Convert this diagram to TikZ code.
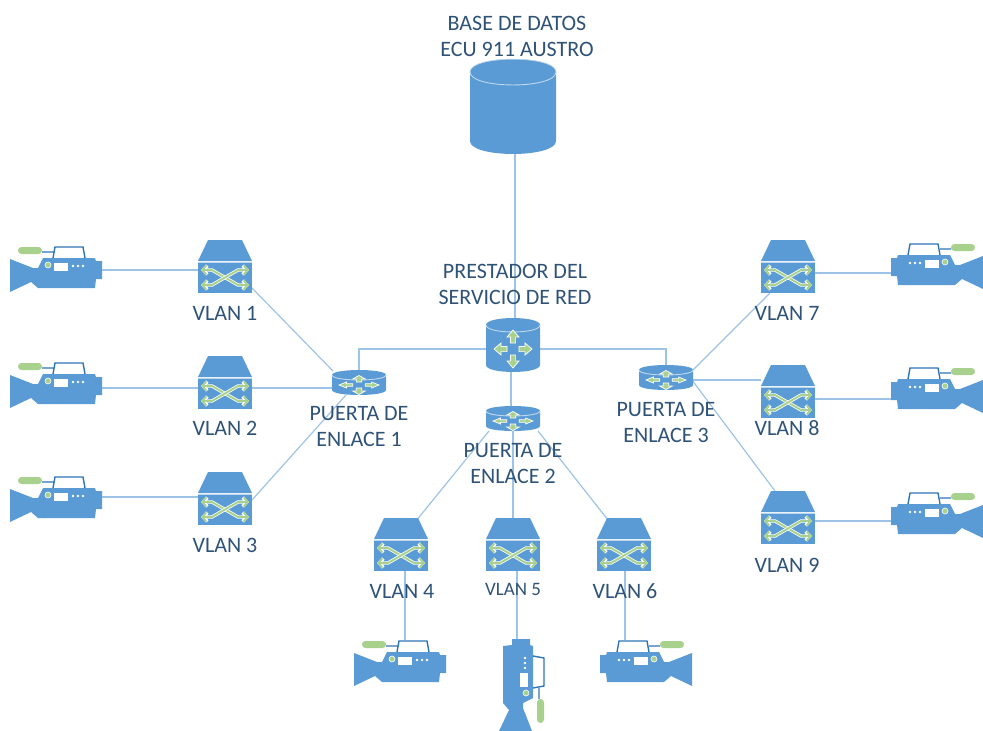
\documentclass[tikz,border=0pt]{standalone}
\usepackage{fontspec}
\setmainfont{Carlito}
\usetikzlibrary{arrows.meta}
\definecolor{devblue}{HTML}{5B9BD5}
\definecolor{wire}{HTML}{9DC3E6}
\definecolor{devgreen}{HTML}{A9D18E}
\definecolor{rim}{HTML}{BDD7EE}
\definecolor{handle}{HTML}{2E75B6}
\definecolor{labelblue}{HTML}{2F5277}
\newcommand{\cylbody}[3]{%
  \fill[devblue] (0,#3) .. controls (0,{-0.33*#3}) and (#1,{-0.33*#3}) .. (#1,#3)
    -- (#1,{#2-#3}) .. controls (#1,{#2+0.33*#3}) and (0,{#2+0.33*#3}) .. (0,{#2-#3}) -- cycle;
  \draw[rim,line width=.9pt] (0,#3) .. controls (0,{2.33*#3}) and (#1,{2.33*#3}) .. (#1,#3);
}
\newcommand{\routerarrows}{%
  \foreach \r in {0,90,180,270}{
    \begin{scope}[rotate=\r]
      \fill[devgreen,draw=white,line width=.7pt] (0,6) -- (-2.6,6) -- (-2.6,12) -- (-6,12) -- (0,19)
        -- (6,12) -- (2.6,12) -- (2.6,6) -- cycle;
    \end{scope}}
}
\tikzset{
  x=1pt,y=-1pt,
  devbox/.style={inner sep=0pt,outer sep=0pt,minimum width=#1,anchor=north west,rectangle},
  link/.style={wire,line width=1.2pt},
  lbl/.style={text=labelblue,font=\fontsize{22}{26}\selectfont,align=center,inner sep=0pt},
  swarrow/.style={line width=#1,{Straight Barb[length=4pt,width=9pt]}-{Straight Barb[length=4pt,width=9pt]}},
  switchicon/.pic={
    \fill[devblue] (0,21) -- (10,0) -- (44,0) -- (54,21) -- cycle;
    \fill[devblue] (0,22.5) rectangle (54,53);
    \draw[rim,line width=.8pt] (0,22) -- (54,22);
    \foreach \p/\q in {30/45,45/30}{
      \draw[white,swarrow=3.4pt] (3,\p) -- (14,\p) -- (40,\q) -- (51,\q);
      \draw[devgreen,swarrow=1.9pt] (3,\p) -- (14,\p) -- (40,\q) -- (51,\q);
    }
  },
  bigrouter/.pic={
    \cylbody{54}{54}{7}
    \begin{scope}[shift={(27,31)}] \routerarrows \end{scope}
  },
  smallrouter/.pic={
    \cylbody{54}{25}{5}
    \begin{scope}[shift={(27,15)},yscale=.5,xscale=1.05] \routerarrows \end{scope}
  },
  database/.pic={
    \cylbody{86}{95}{13}
    \draw[rim,line width=.6pt] (0,13) .. controls (0,-4) and (86,-4) .. (86,13);
  },
  camera/.pic={
    \fill[devblue] (0,13) -- (23,22) -- (28,22) -- (33,12) -- (85,12) -- (86,15) -- (92,15)
      -- (92,33) -- (86,33) -- (85,42) -- (28,42) -- (21,36) -- (0,46) -- cycle;
    \draw[handle,line width=1.4pt] (32,6) -- (43,6) (43,12) -- (45,1) -- (73,1) -- (75,12);
    \fill[devgreen,rounded corners=3.4pt] (8,1) rectangle (32,8);
    \fill[devgreen,draw=white,line width=.6pt] (38,19) circle[radius=3];
    \fill[white] (44,17) rectangle (58,25);
    \foreach \d in {63,68,73} \fill[white] (\d,20) circle[radius=1.3];
  },
}
\begin{document}
\begin{tikzpicture}[x=1pt,y=-1pt]
\useasboundingbox (0,0) rectangle (983,731);
% device nodes
\node[devbox=86pt,minimum height=95pt] (db) at (470,59) {};
\node[devbox=54pt,minimum height=54pt] (core) at (486,318) {};
\node[devbox=54pt,minimum height=25pt] (gw1) at (332,370) {};
\node[devbox=54pt,minimum height=25pt] (gw2) at (486,406) {};
\node[devbox=54pt,minimum height=25pt] (gw3) at (639,365) {};
\foreach \n/\x/\y in {s1/198/240,s2/198/356,s3/198/472,s4/374/518,s5/486/518,s6/597/518,s7/761/240,s8/761/365,s9/761/491}
  \node[devbox=54pt,minimum height=53pt] (\n) at (\x,\y) {};
\foreach \n/\x/\y in {c1/10/246,c2/10/362,c3/10/476,c4/354/640,c6/600/640,c7/891/243,c8/891/367,c9/891/492}
  \node[devbox=92pt,minimum height=46pt] (\n) at (\x,\y) {};
\node[devbox=46pt,minimum height=91pt] (c5) at (499,640) {};
% connectors
\draw[link] ([xshift=2pt]db.south) -- ([xshift=2pt]core.north);
\draw[link] ([yshift=-31pt]core.north west) -| (gw1.north);
\draw[link] ([yshift=-31pt]core.north east) -| (gw3.north);
\draw[link] ([xshift=-2pt]core.south) -- ([xshift=-2pt]gw2.north);
\draw[link] ([xshift=54pt,yshift=-48pt]s1.north west) -- ([xshift=1pt,yshift=-1pt]gw1.north west);
\draw[link] ([xshift=54pt,yshift=-32pt]s2.north west) -- ([yshift=-18pt]gw1.north west);
\draw[link] ([xshift=54pt,yshift=-28pt]s3.north west) -- ([xshift=14pt,yshift=-25pt]gw1.north west);
\draw[link] ([xshift=3pt,yshift=-25pt]gw2.north west) -- ([xshift=42pt,yshift=-3pt]s4.north west);
\draw[link] ([xshift=27pt,yshift=-25pt]gw2.north west) -- ([xshift=27pt]s5.north west);
\draw[link] ([xshift=52pt,yshift=-25pt]gw2.north west) -- ([xshift=11pt,yshift=-2pt]s6.north west);
\draw[link] ([xshift=54pt,yshift=-5pt]gw3.north west) -- ([xshift=9pt,yshift=-53pt]s7.north west);
\draw[link] ([xshift=54pt,yshift=-15pt]gw3.north west) -- ([yshift=-15pt]s8.north west);
\draw[link] ([xshift=53pt,yshift=-15pt]gw3.north west) -- ([xshift=14pt]s9.north west);
\draw[link] ([xshift=92pt,yshift=-24pt]c1.north west) -- ([yshift=-30pt]s1.north west);
\draw[link] ([xshift=92pt,yshift=-26pt]c2.north west) -- ([yshift=-32pt]s2.north west);
\draw[link] ([xshift=92pt,yshift=-21pt]c3.north west) -- ([yshift=-25pt]s3.north west);
\draw[link] ([xshift=31pt,yshift=-53pt]s4.north west) -- ([xshift=51pt]c4.north west);
\draw[link] ([xshift=31pt,yshift=-53pt]s5.north west) -- ([xshift=18pt]c5.north west);
\draw[link] ([xshift=28pt,yshift=-53pt]s6.north west) -- ([xshift=25pt]c6.north west);
\draw[link] ([xshift=54pt,yshift=-33pt]s7.north west) -- ([yshift=-30pt]c7.north west);
\draw[link] ([xshift=54pt,yshift=-34pt]s8.north west) -- ([yshift=-32pt]c8.north west);
\draw[link] ([xshift=54pt,yshift=-30pt]s9.north west) -- ([yshift=-29pt]c9.north west);
% icons
\pic at (db.north west) {database};
\pic at (core.north west) {bigrouter};
\foreach \n in {1,2,3} \pic at (gw\n.north west) {smallrouter};
\foreach \n in {1,...,9} \pic at (s\n.north west) {switchicon};
\foreach \n in {1,2,3,4} \pic at (c\n.north west) {camera};
\foreach \n in {6,7,8,9} \pic[x={(-1pt,0pt)}] at (c\n.north east) {camera};
\pic[x={(0pt,1pt)},y={(-1pt,0pt)}] at (c5.south east) {camera};
% labels
\node[lbl] (tdb) at (517,36) {BASE DE DATOS\\ECU 911 AUSTRO};
\node[lbl] (tcore) at (515,284) {PRESTADOR DEL\\SERVICIO DE RED};
\node[lbl] (tg1) at (359,427) {PUERTA DE\\ENLACE 1};
\node[lbl] (tg2) at (513,464) {PUERTA DE\\ENLACE 2};
\node[lbl] (tg3) at (666,423) {PUERTA DE\\ENLACE 3};
\foreach \n/\x/\y in {1/225/313,2/225/428,3/225/545,4/402/591,6/625/591,7/787/313,8/787/428,9/787/565}
  \node[lbl] (tv\n) at (\x,\y) {VLAN \n};
\node[lbl,font=\fontsize{19}{24}\selectfont] (tv5) at (513,589) {VLAN 5};
\end{tikzpicture}
\end{document}
